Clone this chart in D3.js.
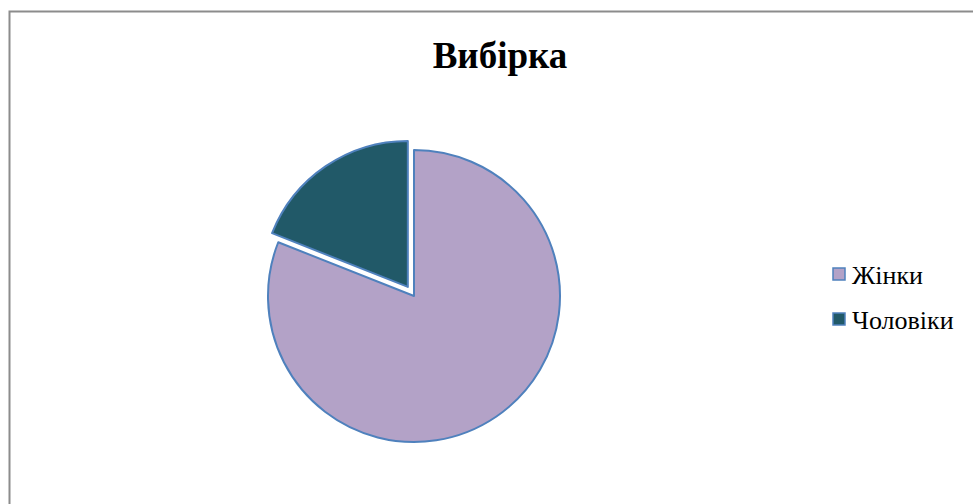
<!DOCTYPE html>
<html>
<head>
<meta charset="utf-8">
<script src="https://cdn.jsdelivr.net/npm/d3@7"></script>
<style>
  body { margin: 0; background: #fff; }
  svg { display: block; }
  text { font-family: "Liberation Serif", "DejaVu Serif", serif; fill: #000; }
</style>
</head>
<body>
<svg width="973" height="504"></svg>
<script>
// chart data
var labels = ["Жінки", "Чоловіки"];
var values = [81, 19];
var colors = ["#b3a2c7", "#215968"];
var title = "Вибірка";

function draw_chart() {
    var svg = d3.select("svg");

    // outer frame
    svg.append("rect")
        .attr("x", 9.5).attr("y", 11.5)
        .attr("width", 980).attr("height", 520)
        .attr("fill", "none")
        .attr("stroke", "#8c8c8c")
        .attr("stroke-width", 2);

    svg.append("text")
        .attr("x", 500).attr("y", 68)
        .attr("text-anchor", "middle")
        .attr("font-size", 37)
        .attr("font-weight", "bold")
        .text(title);

    var cx = 414, cy = 296, r = 146;
    var pie = d3.pie().sort(null).value(function (d) { return d; });
    var arcs = pie(values);
    var arc = d3.arc().innerRadius(0).outerRadius(r);

    var g = svg.append("g").attr("transform", "translate(" + cx + "," + cy + ")");

    // the small slice is pulled out of the pie
    g.selectAll("path")
        .data(arcs)
        .enter().append("path")
        .attr("d", arc)
        .attr("fill", function (d, i) { return colors[i]; })
        .attr("stroke", "#4f81bd")
        .attr("stroke-width", 2)
        .attr("stroke-linejoin", "round")
        .attr("transform", function (d, i) {
            if (i == 0) return null;
            var mid = (d.startAngle + d.endAngle) / 2;
            var off = 11;
            return "translate(" + (Math.sin(mid) * off) + "," + (-Math.cos(mid) * off) + ")";
        });

    // legend
    var legend = svg.append("g").selectAll("g")
        .data(labels)
        .enter().append("g")
        .attr("transform", function (d, i) { return "translate(833," + (268 + i * 45) + ")"; });

    legend.append("rect")
        .attr("width", 12).attr("height", 12)
        .attr("fill", function (d, i) { return colors[i]; })
        .attr("stroke", "#4f81bd")
        .attr("stroke-width", 1.5);

    legend.append("text")
        .attr("x", 19).attr("y", 15.5)
        .attr("font-size", 26)
        .text(function (d) { return d; });
}

draw_chart();
</script>
</body>
</html>
